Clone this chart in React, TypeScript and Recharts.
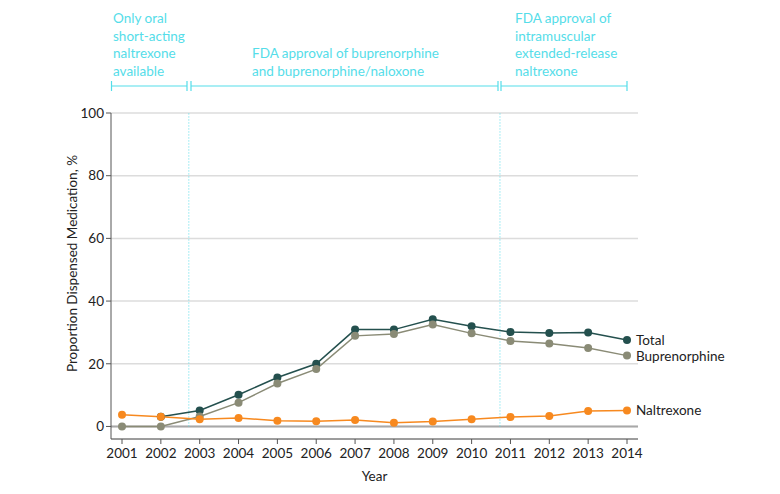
import {
  CartesianGrid,
  LabelList,
  Line,
  LineChart,
  ReferenceLine,
  XAxis,
  YAxis,
} from "recharts";

const years = [2001, 2002, 2003, 2004, 2005, 2006, 2007, 2008, 2009, 2010, 2011, 2012, 2013, 2014];
const total = [null, 3.1, 5.1, 10.1, 15.6, 20.0, 30.9, 30.9, 34.2, 32.0, 30.1, 29.8, 30.0, 27.6];
const buprenorphine = [0, 0, 3.2, 7.6, 13.7, 18.3, 28.9, 29.5, 32.5, 29.7, 27.3, 26.5, 25.0, 22.6];
const naltrexone = [3.7, 3.1, 2.3, 2.7, 1.8, 1.7, 2.1, 1.2, 1.6, 2.3, 3.0, 3.3, 4.9, 5.1];
const yTicks = [0, 20, 40, 60, 80, 100];
const approvals = [2002.72, 2010.73];

const font = "Lato, 'Open Sans', sans-serif";
const fs = 13.5;
const cyan = "#55dde9";
const colors = { total: "#24504e", bup: "#8a8b76", nal: "#f7891f" };

const data = years.map((year, i) => ({
  year,
  total: total[i],
  buprenorphine: buprenorphine[i],
  naltrexone: naltrexone[i],
}));

const endLabel = (text: string) => (props: any) => {
  if (props.index !== years.length - 1) return null;
  return (
    <text
      x={props.x + 9}
      y={props.y}
      dominantBaseline="central"
      fontSize={fs}
      fontFamily={font}
      fill="#222"
    >
      {text}
    </text>
  );
};

// bracket across the top: [x1, x2]
const brackets = [
  [111.5, 187],
  [191, 498],
  [501, 627],
];

const notes = [
  { x: 113, lines: ["Only oral", "short-acting", "naltrexone", "available"] },
  { x: 252, lines: ["", "", "FDA approval of buprenorphine", "and buprenorphine/naloxone"] },
  { x: 515, lines: ["FDA approval of", "intramuscular", "extended-release", "naltrexone"] },
];

export default function App() {
  return (
    <div style={{ position: "absolute", left: 0, top: 0, width: 780, height: 494, background: "#fff" }}>
      <LineChart
        width={780}
        height={494}
        data={data}
        margin={{ top: 113, right: 142, bottom: 0, left: 0 }}
      >
        <CartesianGrid vertical={false} stroke="#dcdcdc" strokeWidth={1.5} />
        <XAxis
          dataKey="year"
          type="number"
          domain={[2001, 2014]}
          ticks={years}
          padding={{ left: 11, right: 11 }}
          height={55}
          stroke="#555"
          tickSize={5}
          tick={{ fill: "#222", fontSize: fs, fontFamily: font, dy: 2 }}
          label={{ value: "Year", position: "insideBottom", offset: 13, fill: "#222", fontSize: fs, fontFamily: font }}
        />
        <YAxis
          domain={[-4, 100]}
          ticks={yTicks}
          width={111}
          stroke="#555"
          tickSize={5}
          tick={{ fill: "#222", fontSize: fs, fontFamily: font }}
          label={{
            value: "Proportion Dispensed Medication, %",
            angle: -90,
            position: "insideLeft",
            offset: 72,
            dy: 96,
            fill: "#222",
            fontSize: fs,
            fontFamily: font,
          }}
        />
        <ReferenceLine y={0} stroke="#a8a8a8" strokeWidth={2} />
        {approvals.map((x) => (
          <ReferenceLine
            key={x}
            segment={[{ x, y: 0 }, { x, y: 100 }]}
            stroke={cyan}
            strokeDasharray="1 2"
          />
        ))}
        <Line
          dataKey="total"
          stroke={colors.total}
          strokeWidth={1.5}
          dot={{ r: 4, fill: colors.total, stroke: colors.total, strokeWidth: 0 }}
          isAnimationActive={false}
        >
          <LabelList dataKey="total" content={endLabel("Total")} />
        </Line>
        <Line
          dataKey="buprenorphine"
          stroke={colors.bup}
          strokeWidth={1.5}
          dot={{ r: 4, fill: colors.bup, stroke: colors.bup, strokeWidth: 0 }}
          isAnimationActive={false}
        >
          <LabelList dataKey="buprenorphine" content={endLabel("Buprenorphine")} />
        </Line>
        <Line
          dataKey="naltrexone"
          stroke={colors.nal}
          strokeWidth={1.5}
          dot={{ r: 4, fill: colors.nal, stroke: colors.nal, strokeWidth: 0 }}
          isAnimationActive={false}
        >
          <LabelList dataKey="naltrexone" content={endLabel("Naltrexone")} />
        </Line>
      </LineChart>
      <svg
        width={780}
        height={110}
        style={{ position: "absolute", left: 0, top: 0, pointerEvents: "none" }}
      >
        {brackets.map(([a, b], i) => (
          <g key={i} stroke={cyan} strokeWidth={1.2}>
            <line x1={a} y1={86} x2={b} y2={86} />
            <line x1={a} y1={81} x2={a} y2={91} />
            <line x1={b} y1={81} x2={b} y2={91} />
          </g>
        ))}
        {notes.map((n, i) =>
          n.lines.map((t, j) => (
            <text
              key={`${i}-${j}`}
              x={n.x}
              y={18 + j * 17.5}
              dominantBaseline="central"
              fontSize={fs}
              fontFamily={font}
              fill={cyan}
            >
              {t}
            </text>
          ))
        )}
      </svg>
    </div>
  );
}
